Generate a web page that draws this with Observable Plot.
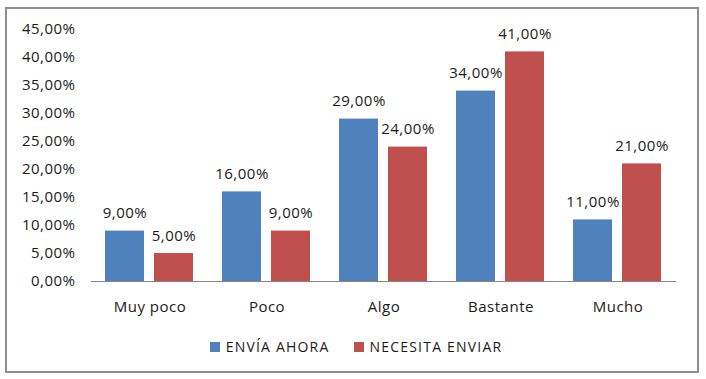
<!DOCTYPE html>
<html>
<head>
<meta charset="utf-8">
<script src="https://cdn.jsdelivr.net/npm/d3@7"></script>
<script src="https://cdn.jsdelivr.net/npm/@observablehq/plot@0.6"></script>
<style>
  html, body { margin: 0; padding: 0; background: #fff; }
  #wrap { position: relative; width: 706px; height: 379px; overflow: hidden; font-family: "Open Sans", sans-serif; }
  #frame { position: absolute; left: 5px; top: 7px; width: 690px; height: 362px; border: 2px solid #8e8e8e; box-sizing: content-box; }
  #chart { position: absolute; left: 0; top: 0; }
  #legend { position: absolute; left: 0; top: 337px; width: 706px; display: flex; justify-content: center; gap: 24px; font-size: 14px; letter-spacing: 1.2px; color: #1a1a1a; padding-left: 3px; }
  .item { display: flex; align-items: center; gap: 6px; }
  .sw { width: 10px; height: 10px; display: inline-block; }
</style>
</head>
<body>
<div id="wrap">
  <div id="frame"></div>
  <div id="chart"></div>
  <div id="legend"></div>
</div>
<script>
const categories = ["Muy poco", "Poco", "Algo", "Bastante", "Mucho"];
const series = ["ENVÍA AHORA", "NECESITA ENVIAR"];
const enviaAhora = [9, 16, 29, 34, 11];
const necesitaEnviar = [5, 9, 24, 41, 21];
const yTicks = [0, 5, 10, 15, 20, 25, 30, 35, 40, 45];
const colors = ["#4F81BD", "#C0504D"];

const fmt = v => v.toFixed(2).replace(".", ",") + "%";

const data = categories.flatMap((c, i) => [
  {cat: c, serie: series[0], value: enviaAhora[i]},
  {cat: c, serie: series[1], value: necesitaEnviar[i]}
]);

const chart = Plot.plot({
  width: 706,
  height: 325,
  marginLeft: 89,
  marginRight: 29,
  marginTop: 29,
  marginBottom: 44,
  style: {fontFamily: "Open Sans, sans-serif", fontSize: "15px", color: "#1a1a1a", background: "transparent", letterSpacing: "0.5px"},
  fx: {domain: categories, padding: 0, label: null},
  x: {domain: series, paddingInner: 0.2, paddingOuter: 0.276, axis: null},
  y: {domain: [0, 45], label: null},
  color: {domain: series, range: colors},
  marks: [
    Plot.axisY({ticks: yTicks, tickSize: 0, tickPadding: 16, tickFormat: fmt, label: null, fill: "#1a1a1a", fontSize: 15}),
    Plot.axisFx({anchor: "bottom", tickSize: 0, tickPadding: 20, label: null, fill: "#1a1a1a", fontSize: 15}),
    Plot.barY(data, {fx: "cat", x: "serie", y: "value", fill: "serie"}),
    Plot.ruleY([0], {stroke: "#868686", strokeWidth: 1.2}),
    Plot.text(data, {fx: "cat", x: "serie", y: "value", text: d => fmt(d.value), lineAnchor: "bottom", dy: -13, fill: "#1a1a1a", fontSize: 15})
  ]
});
document.getElementById("chart").appendChild(chart);

const legend = document.getElementById("legend");
series.forEach((s, i) => {
  const item = document.createElement("div");
  item.className = "item";
  const sw = document.createElement("span");
  sw.className = "sw";
  sw.style.background = colors[i];
  const t = document.createElement("span");
  t.textContent = s;
  item.appendChild(sw);
  item.appendChild(t);
  legend.appendChild(item);
});
</script>
</body>
</html>
